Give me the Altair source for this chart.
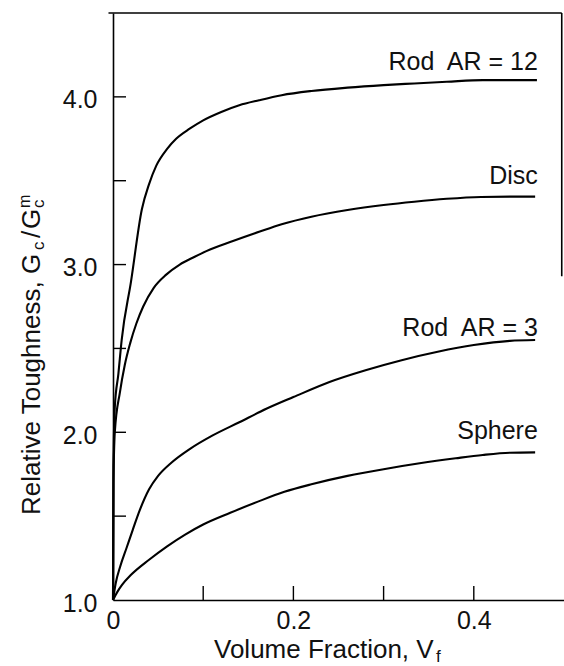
import altair as alt
import pandas as pd

# ---- data ----
ar12_x = [0, 0.0005, 0.002, 0.006, 0.0096, 0.02, 0.032, 0.04, 0.048, 0.06, 0.07, 0.085, 0.1, 0.12, 0.14, 0.162,
          0.187, 0.22, 0.26, 0.3, 0.334, 0.37, 0.41, 0.44, 0.47]
ar12_y = [1.0, 1.8, 2.15, 2.35, 2.55, 2.9, 3.33, 3.48, 3.59, 3.69, 3.75, 3.81, 3.86, 3.91, 3.95, 3.98,
          4.01, 4.035, 4.055, 4.07, 4.08, 4.09, 4.10, 4.10, 4.10]

disc_x = [0, 0.0005, 0.002, 0.0077, 0.013, 0.019, 0.026, 0.0335, 0.045, 0.059, 0.074, 0.09, 0.1035, 0.133, 0.162,
          0.187, 0.22, 0.26, 0.3, 0.334, 0.37, 0.408, 0.44, 0.468]
disc_y = [1.0, 1.7, 2.0, 2.24, 2.4, 2.53, 2.65, 2.75, 2.86, 2.94, 3.0, 3.045, 3.08, 3.14, 3.195,
          3.24, 3.285, 3.325, 3.355, 3.375, 3.392, 3.403, 3.405, 3.405]

ar3_x = [0, 0.003, 0.008, 0.015, 0.022, 0.03, 0.04, 0.05, 0.065, 0.085, 0.11, 0.14, 0.17, 0.2, 0.24, 0.28,
         0.32, 0.36, 0.4, 0.44, 0.468]
ar3_y = [1.0, 1.1, 1.2, 1.31, 1.42, 1.54, 1.66, 1.74, 1.82, 1.9, 1.98, 2.06, 2.14, 2.21, 2.30, 2.37,
         2.43, 2.48, 2.52, 2.545, 2.55]

sph_x = [0, 0.005, 0.01, 0.02, 0.04, 0.06, 0.08, 0.1, 0.13, 0.16, 0.19, 0.22, 0.26, 0.3, 0.34, 0.38, 0.41,
         0.44, 0.468]
sph_y = [1.0, 1.05, 1.09, 1.15, 1.24, 1.32, 1.39, 1.45, 1.52, 1.585, 1.645, 1.69, 1.74, 1.78, 1.815, 1.845,
         1.865, 1.878, 1.88]

series_names = ["Rod AR = 12", "Disc", "Rod AR = 3", "Sphere"]
label_texts = ["Rod\u00a0 AR = 12", "Disc", "Rod\u00a0 AR = 3", "Sphere"]
label_x = [0.471, 0.471, 0.471, 0.471]
label_y = [4.16, 3.48, 2.575, 1.96]

x_major = [0, 0.2, 0.4]
x_tick_vals = [0.1, 0.2, 0.3, 0.4]
y_major = [1.0, 2.0, 3.0, 4.0]
y_tick_vals = [1.5, 2.0, 2.5, 3.0, 3.5, 4.0]

x_domain = [0, 0.5]
y_domain = [1.0, 4.5]
frame_right = 0.4975
frame_left = -0.005
frame_right_bottom = 2.93

FONT = "Liberation Sans"
W, H = 451, 587

rows = []
for name, xs_, ys_ in zip(series_names, [ar12_x, disc_x, ar3_x, sph_x], [ar12_y, disc_y, ar3_y, sph_y]):
    for a, b in zip(xs_, ys_):
        rows.append({"series": name, "vf": a, "g": b})
df = pd.DataFrame(rows)

xs = alt.Scale(domain=x_domain, nice=False, zero=False)
ys = alt.Scale(domain=y_domain, nice=False, zero=False)

lines = alt.Chart(df).mark_line(color="black", strokeWidth=2.1, interpolate="monotone").encode(
    x=alt.X("vf:Q", scale=xs, axis=alt.Axis(
        values=x_major, labelExpr="datum.value == 0 ? '0' : format(datum.value, '.1f')",
        ticks=False, grid=False, domainColor="black", domainWidth=1.6, title=None,
        labelFont=FONT, labelFontSize=25, labelColor="#111", labelPadding=8, labelFlush=False)),
    y=alt.Y("g:Q", scale=ys, axis=alt.Axis(
        values=y_major, format=".1f", ticks=False, grid=False, domainColor="black", domainWidth=1.6,
        title=None, labelFont=FONT, labelFontSize=25, labelColor="#111", labelPadding=16,
        labelOffset=3, labelFlush=False)),
    detail="series:N",
)

ytick = alt.Chart(pd.DataFrame({"g": y_tick_vals})).mark_rule(color="black", strokeWidth=1.4).encode(
    y=alt.Y("g:Q", scale=ys), x=alt.value(0), x2=alt.value(13))
xtick = alt.Chart(pd.DataFrame({"vf": x_tick_vals})).mark_rule(color="black", strokeWidth=1.4).encode(
    x=alt.X("vf:Q", scale=xs), y=alt.value(H), y2=alt.value(H - 14))

top = alt.Chart(pd.DataFrame({"vf": [frame_left], "vf2": [frame_right], "g": [y_domain[1]]})).mark_rule(
    color="black", strokeWidth=1.6).encode(x=alt.X("vf:Q", scale=xs), x2="vf2:Q", y=alt.Y("g:Q", scale=ys))
right = alt.Chart(pd.DataFrame({"vf": [frame_right], "g": [y_domain[1]], "g2": [frame_right_bottom]})).mark_rule(
    color="black", strokeWidth=1.6).encode(x=alt.X("vf:Q", scale=xs), y=alt.Y("g:Q", scale=ys), y2="g2:Q")

labels = alt.Chart(pd.DataFrame({"vf": label_x, "g": label_y, "t": label_texts})).mark_text(
    align="right", baseline="alphabetic", font=FONT, fontSize=25, color="#111").encode(
    x=alt.X("vf:Q", scale=xs), y=alt.Y("g:Q", scale=ys), text="t:N")


def piece(text, px, py, size, angle=0):
    return alt.Chart(pd.DataFrame({"t": [text]})).mark_text(
        align="left", baseline="alphabetic", font=FONT, fontSize=size, color="#111", angle=angle).encode(
        x=alt.value(px - 113), y=alt.value(py - 13), text="t:N")


# x title: "Volume Fraction, V" + subscript f
xt_main = piece("Volume Fraction, V", 214, 658, 26)
xt_sub = piece("f", 214 + 221 + 1, 662, 17)

# y title: "Relative Toughness, G" c "/" G c^m  (rotated)
yt = [
    piece("Relative Toughness, G", 40, 515, 26, 270),
    piece("c", 44, 250, 17, 270),
    piece("/", 40, 238, 26, 270),
    piece("G", 40, 229, 26, 270),
    piece("c", 44, 208, 17, 270),
    piece("m", 30, 208, 16, 270),
]

chart = alt.layer(lines, ytick, xtick, top, right, labels, xt_main, xt_sub, *yt).properties(
    width=W, height=H,
    autosize=alt.AutoSizeParams(type="none"),
    padding={"left": 113, "top": 13, "right": 0, "bottom": 66},
).configure_view(stroke=None)

chart.save("out.html", embed_options={"renderer": "svg", "actions": False})
